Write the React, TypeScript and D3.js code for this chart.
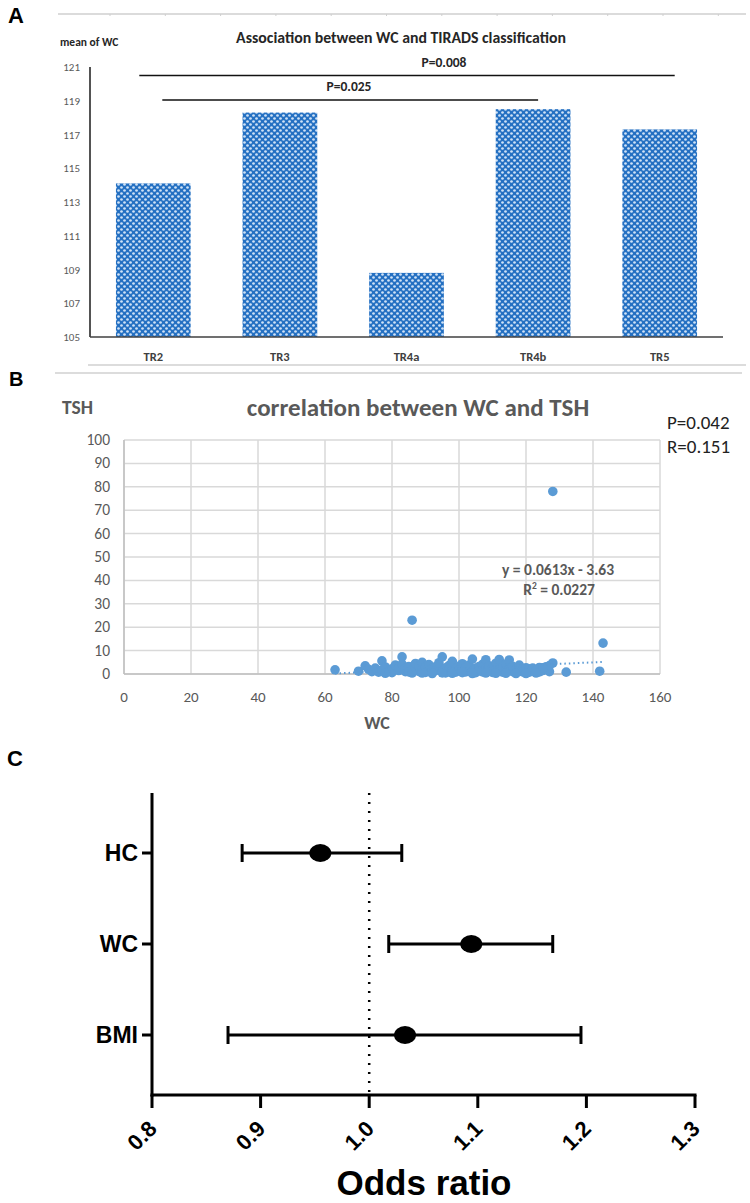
import React from "react";
import * as d3 from "d3";

// ---------- Panel A data ----------
const tiradsCats = ["TR2", "TR3", "TR4a", "TR4b", "TR5"];
const meanWC = [114.1, 118.3, 108.8, 118.5, 117.3];
const aTicks = [105, 107, 109, 111, 113, 115, 117, 119, 121];
const sigBrackets = [
  { from: "TR2", to: "TR5", label: "P=0.008" },
  { from: "TR2", to: "TR4b", label: "P=0.025" },
];

// ---------- Panel B data ----------
const wcValues = [
  63, 86, 128, 143, 132, 142,
  70, 72, 73, 74, 75, 76, 77, 77, 78, 79, 80, 80, 81, 82, 82, 83, 83, 84, 84, 85, 85, 86, 87, 87,
  88, 88, 89, 89, 90, 90, 91, 91, 92, 92, 93, 93, 94, 94, 95, 95, 96, 96, 97, 97, 98, 98, 99, 99,
  100, 100, 101, 101, 102, 102, 103, 103, 104, 104, 105, 105, 106, 106, 107, 107, 108, 108, 109, 109,
  110, 110, 111, 111, 112, 112, 113, 113, 114, 114, 115, 115, 116, 116, 117, 117, 118, 118, 119, 119,
  120, 120, 121, 121, 122, 122, 123, 124, 124, 125, 126, 126, 127, 128, 127, 125,
  78, 86, 92, 98, 104, 108, 114, 120, 95, 101, 89, 111, 117, 123,
];
const tshValues = [
  1.8, 23, 78, 13.2, 0.8, 1.2,
  1.2, 3.5, 2.0, 1.0, 2.5, 0.8, 5.6, 1.8, 3.0, 1.2, 2.2, 0.6, 3.8, 1.5, 2.8, 7.3, 4.2, 1.0, 2.4, 3.2, 0.9, 1.8, 2.6, 4.5,
  1.1, 3.4, 5.0, 2.0, 0.7, 2.9, 1.6, 4.0, 2.3, 0.9, 3.1, 1.4, 2.1, 4.8, 7.3, 1.0, 2.7, 0.5, 3.6, 1.9, 5.4, 1.2, 2.4, 0.8,
  3.3, 1.6, 2.0, 4.4, 0.9, 2.9, 1.5, 3.8, 6.4, 1.1, 2.5, 0.6, 3.2, 1.8, 4.1, 0.9, 6.1, 2.2, 1.3, 3.5,
  0.7, 2.6, 4.6, 1.5, 6.2, 2.0, 0.8, 3.0, 1.7, 4.3, 6.0, 2.4, 1.0, 3.3, 1.9, 0.6, 3.8, 1.3, 2.2, 0.9,
  1.6, 2.7, 0.8, 1.9, 1.2, 2.5, 1.7, 0.9, 2.8, 1.5, 3.1, 2.2, 1.0, 4.7, 3.6, 2.6,
  0.3, 0.4, 0.2, 0.3, 0.2, 0.4, 0.3, 0.2, 0.5, 0.6, 0.4, 0.3, 0.2, 0.4,
];
const trendSlope = 0.0613;
const trendIntercept = -3.63;
const bXTicks = [0, 20, 40, 60, 80, 100, 120, 140, 160];
const bYTicks = [0, 10, 20, 30, 40, 50, 60, 70, 80, 90, 100];

// ---------- Panel C data ----------
const orLabels = ["HC", "WC", "BMI"];
const orEstimate = [0.955, 1.094, 1.033];
const orLower = [0.883, 1.018, 0.87];
const orUpper = [1.03, 1.169, 1.195];
const orTicks = [0.8, 0.9, 1.0, 1.1, 1.2, 1.3];

const CAL = "Carlito, Lato, 'Open Sans', sans-serif";
const ARIAL = "'Liberation Sans', Arial, sans-serif";

export default function App() {
  // Panel A scales
  const ax = d3.scaleBand().domain(tiradsCats).range([90, 723]).paddingInner(0.41).paddingOuter(0.205);
  const ay = d3.scaleLinear().domain([105, 121]).range([337, 67]);

  // Panel B scales
  const bx = d3.scaleLinear().domain([0, 160]).range([124, 660]);
  const by = d3.scaleLinear().domain([0, 100]).range([674, 440]);
  const wcExt = d3.extent(wcValues) as [number, number];

  // Panel C scales
  const cx = d3.scaleLinear().domain([0.8, 1.3]).range([152, 695]);
  const cy = d3.scalePoint().domain(orLabels).range([853, 1035]);
  const cTop = 793;
  const cAxisY = 1095;

  const topTicks = d3.range(110, 746, 55.3);

  return (
    <svg width={750} height={1203} style={{ position: "absolute", left: 0, top: 0, background: "#fff" }}>
      <defs>
        <pattern id="dots" width={6} height={6} patternUnits="userSpaceOnUse">
          <rect width={6} height={6} fill="#2470c2" />
          <circle cx={1.5} cy={1.5} r={1.35} fill="#cfe2f6" />
          <circle cx={4.5} cy={4.5} r={1.35} fill="#cfe2f6" />
        </pattern>
      </defs>

      {/* ===== Panel A ===== */}
      <text x={8} y={23} fontFamily={ARIAL} fontWeight="bold" fontSize={22}>A</text>
      <line x1={58} x2={746} y1={14} y2={14} stroke="#cfcfcf" strokeWidth={1.5} />
      {topTicks.map((t, i) => (
        <line key={i} x1={t} x2={t} y1={14} y2={16} stroke="#cfcfcf" strokeWidth={1} />
      ))}
      <text x={401} y={43} textAnchor="middle" fontFamily={CAL} fontWeight="bold" fontSize={15.8} fill="#262626">
        Association between WC and TIRADS classification
      </text>
      <text x={60} y={46} fontFamily={CAL} fontWeight="bold" fontSize={11.5} fill="#262626">mean of WC</text>
      {aTicks.map((t) => (
        <text key={t} x={80} y={ay(t) + 4} textAnchor="end" fontFamily={CAL} fontSize={11} fill="#595959">{t}</text>
      ))}
      {tiradsCats.map((c, i) => (
        <rect key={c} x={ax(c)} y={ay(meanWC[i])} width={ax.bandwidth()} height={ay(105) - ay(meanWC[i])} fill="url(#dots)" />
      ))}
      <line x1={90} x2={90} y1={67} y2={337} stroke="#1a1a1a" strokeWidth={1.5} />
      <line x1={90} x2={723} y1={337} y2={337} stroke="#404040" strokeWidth={1.5} />
      {tiradsCats.map((c) => (
        <text key={c} x={ax(c)! + ax.bandwidth() / 2} y={361} textAnchor="middle" fontFamily={CAL} fontWeight="bold" fontSize={12.5} fill="#404040">{c}</text>
      ))}
      {sigBrackets.map((b, i) => {
        const x1 = ax(b.from)! + ax.bandwidth() / 2 - 14 + (i === 1 ? 23 : 0);
        const x2 = i === 0 ? ax(b.to)! + ax.bandwidth() / 2 + 15 : ax(b.to)! + ax.bandwidth() / 2 + 5;
        const yy = i === 0 ? 75.5 : 100;
        return (
          <g key={i}>
            <line x1={x1} x2={x2} y1={yy} y2={yy} stroke="#111" strokeWidth={1.5} />
            <text x={i === 0 ? 444 : 349} y={yy - 9} textAnchor="middle" fontFamily={CAL} fontWeight="bold" fontSize={13.5} fill="#262626">{b.label}</text>
          </g>
        );
      })}
      <line x1={88} x2={746} y1={365} y2={365} stroke="#d0d0d0" strokeWidth={1.5} />

      {/* ===== Panel B ===== */}
      <text x={9} y={386} fontFamily={ARIAL} fontWeight="bold" fontSize={20}>B</text>
      <line x1={55} x2={742} y1={373} y2={373} stroke="#d0d0d0" strokeWidth={1.5} />
      <text x={62} y={414} fontFamily={CAL} fontWeight="bold" fontSize={19.5} fill="#595959">TSH</text>
      <text x={418} y={416} textAnchor="middle" fontFamily={CAL} fontWeight="bold" fontSize={25} fill="#595959">correlation between WC and TSH</text>
      <text x={667} y={429} fontFamily={CAL} fontSize={19} fill="#222">P=0.042</text>
      <text x={667} y={453} fontFamily={CAL} fontSize={19} fill="#222">R=0.151</text>
      {bYTicks.map((t) => (
        <line key={"gy" + t} x1={bx(0)} x2={bx(160)} y1={by(t)} y2={by(t)} stroke="#d9d9d9" strokeWidth={1.5} />
      ))}
      {bXTicks.map((t) => (
        <line key={"gx" + t} x1={bx(t)} x2={bx(t)} y1={by(0)} y2={by(100)} stroke="#d9d9d9" strokeWidth={1.5} />
      ))}
      <line x1={bx(0)} x2={bx(0)} y1={by(0)} y2={by(100)} stroke="#bfbfbf" strokeWidth={1.5} />
      <line x1={bx(0)} x2={bx(160)} y1={by(0)} y2={by(0)} stroke="#bfbfbf" strokeWidth={1.5} />
      {bYTicks.map((t) => (
        <text key={"ty" + t} x={110} y={by(t) + 5} textAnchor="end" fontFamily={CAL} fontSize={15.5} fill="#595959">{t}</text>
      ))}
      {bXTicks.map((t) => (
        <text key={"tx" + t} x={bx(t)} y={702} textAnchor="middle" fontFamily={CAL} fontSize={15} fill="#595959">{t}</text>
      ))}
      <text x={377} y={729} textAnchor="middle" fontFamily={CAL} fontWeight="bold" fontSize={18} fill="#595959">WC</text>
      {wcValues.map((w, i) => (
        <circle key={i} cx={bx(w)} cy={by(tshValues[i])} r={4.8} fill="#5b9bd5" />
      ))}
      <line
        x1={bx(wcExt[0])}
        x2={bx(wcExt[1])}
        y1={by(trendSlope * wcExt[0] + trendIntercept)}
        y2={by(trendSlope * wcExt[1] + trendIntercept)}
        stroke="#5b9bd5"
        strokeWidth={2}
        strokeDasharray="1.5 3"
      />
      <text x={558} y={575} textAnchor="middle" fontFamily={CAL} fontWeight="bold" fontSize={15.5} fill="#595959">y = 0.0613x - 3.63</text>
      <text x={559} y={595} textAnchor="middle" fontFamily={CAL} fontWeight="bold" fontSize={15.5} fill="#595959">
        R<tspan dy={-6} fontSize={9.5}>2</tspan><tspan dy={6}> = 0.0227</tspan>
      </text>

      {/* ===== Panel C ===== */}
      <text x={7} y={766} fontFamily={ARIAL} fontWeight="bold" fontSize={22}>C</text>
      <line x1={cx(1.0)} x2={cx(1.0)} y1={cTop} y2={cAxisY} stroke="#000" strokeWidth={2.5} strokeDasharray="2 7" />
      <line x1={cx(0.8)} x2={cx(0.8)} y1={cTop} y2={cAxisY + 1.5} stroke="#000" strokeWidth={3} />
      <line x1={cx(0.8) - 1.5} x2={cx(1.3) + 1.5} y1={cAxisY} y2={cAxisY} stroke="#000" strokeWidth={3} />
      {orTicks.map((t) => (
        <g key={t}>
          <line x1={cx(t)} x2={cx(t)} y1={cAxisY} y2={cAxisY + 13} stroke="#000" strokeWidth={3} />
          <text
            transform={`translate(${cx(t) + 2},${cAxisY + 31}) rotate(-45)`}
            textAnchor="end"
            dominantBaseline="middle"
            fontFamily={ARIAL}
            fontWeight="bold"
            fontSize={22}
          >
            {t.toFixed(1)}
          </text>
        </g>
      ))}
      {orLabels.map((l, i) => {
        const y = cy(l)!;
        return (
          <g key={l}>
            <line x1={cx(0.8) - 10} x2={cx(0.8)} y1={y} y2={y} stroke="#000" strokeWidth={3} />
            <text x={cx(0.8) - 14} y={y + 8} textAnchor="end" fontFamily={ARIAL} fontWeight="bold" fontSize={23}>{l}</text>
            <line x1={cx(orLower[i])} x2={cx(orUpper[i])} y1={y} y2={y} stroke="#000" strokeWidth={3} />
            <line x1={cx(orLower[i])} x2={cx(orLower[i])} y1={y - 9} y2={y + 9} stroke="#000" strokeWidth={3} />
            <line x1={cx(orUpper[i])} x2={cx(orUpper[i])} y1={y - 9} y2={y + 9} stroke="#000" strokeWidth={3} />
            <ellipse cx={cx(orEstimate[i])} cy={y} rx={11} ry={9} fill="#000" />
          </g>
        );
      })}
      <text x={424} y={1195} textAnchor="middle" fontFamily={ARIAL} fontWeight="bold" fontSize={35}>Odds ratio</text>
    </svg>
  );
}
